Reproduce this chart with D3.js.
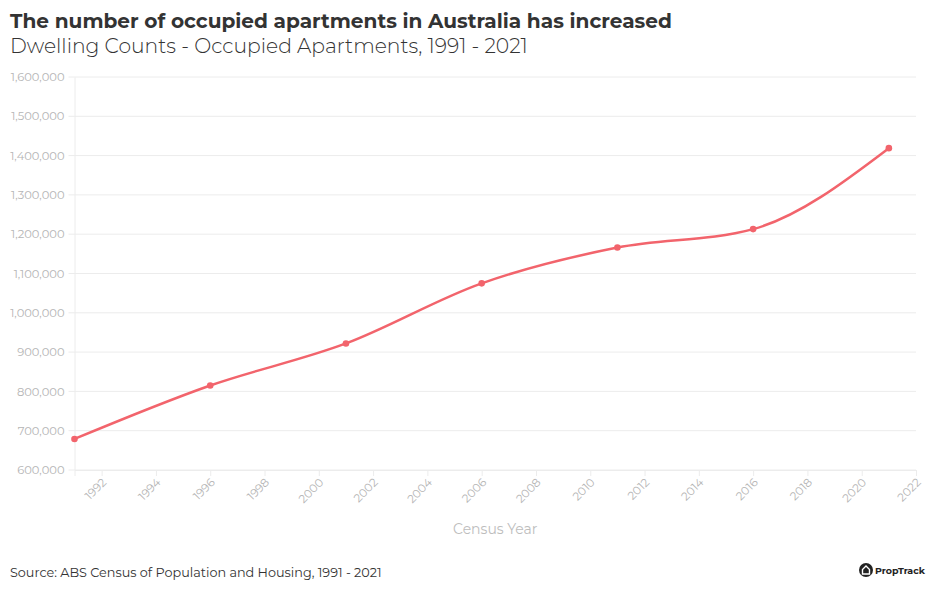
<!DOCTYPE html>
<html>
<head>
<meta charset="utf-8">
<script src="https://cdn.jsdelivr.net/npm/d3@7"></script>
<style>
  html, body { margin: 0; padding: 0; background: #fff; }
  svg { display: block; font-family: Montserrat, "Noto Sans", "Open Sans", sans-serif; }
</style>
</head>
<body>
<svg id="chart" width="941" height="600"></svg>
<script>
// ---- data ----
const years = [1991, 1996, 2001, 2006, 2011, 2016, 2021];
const occupiedApartments = [679000, 815000, 922000, 1075000, 1166000, 1213000, 1419000];
const yTicks = [600000, 700000, 800000, 900000, 1000000, 1100000, 1200000, 1300000, 1400000, 1500000, 1600000];
const xTicks = [1992, 1994, 1996, 1998, 2000, 2002, 2004, 2006, 2008, 2010, 2012, 2014, 2016, 2018, 2020, 2022];
const titleText = "The number of occupied apartments in Australia has increased";
const subtitleText = "Dwelling Counts - Occupied Apartments, 1991 - 2021";
const xAxisTitle = "Census Year";
const sourceText = "Source: ABS Census of Population and Housing, 1991 - 2021";

const svg = d3.select("#chart");
const W = 941, H = 600;
const m = { left: 74.5, right: 941 - 916, top: 77, bottom: 600 - 470 };

const x = d3.scaleLinear().domain([1991, 2022]).range([m.left, W - m.right]);
const y = d3.scaleLinear().domain([600000, 1600000]).range([H - m.bottom, m.top]);

// fit text to a target width
function fitText(sel, targetW) {
  const node = sel.node();
  const fs = parseFloat(sel.attr("font-size"));
  const w = node.getComputedTextLength();
  if (w > 0) sel.attr("font-size", (fs * targetW / w).toFixed(2));
}

// title & subtitle
const t1 = svg.append("text").attr("x", 10).attr("y", 28)
  .attr("font-size", 19).attr("font-weight", 700).attr("fill", "#333").text(titleText);
fitText(t1, 662);
const t2 = svg.append("text").attr("x", 10).attr("y", 53)
  .attr("font-size", 19).attr("font-weight", 300).attr("fill", "#333").text(subtitleText);
fitText(t2, 518);

// grid lines
const grid = svg.append("g");
grid.selectAll("line").data(yTicks).join("line")
  .attr("x1", m.left - 6).attr("x2", W - m.right)
  .attr("y1", d => y(d)).attr("y2", d => y(d))
  .attr("stroke", "#ececec").attr("stroke-width", 1);

// y axis
const yAxis = svg.append("g").attr("transform", `translate(${m.left},0)`)
  .call(d3.axisLeft(y).tickValues(yTicks).tickSize(0).tickPadding(10).tickFormat(d3.format(",")));
yAxis.select(".domain").attr("stroke", "#ececec");
yAxis.selectAll("text").attr("fill", "#b5b5b5").attr("font-size", 11.5)
  .attr("font-family", "Montserrat, 'Noto Sans', sans-serif");

// x axis
const xAxis = svg.append("g").attr("transform", `translate(0,${H - m.bottom})`)
  .call(d3.axisBottom(x).tickValues(xTicks).tickSize(6).tickFormat(d3.format("d")));
xAxis.select(".domain").attr("stroke", "#ececec");
xAxis.selectAll(".tick line").attr("stroke", "#ececec");
xAxis.selectAll("text").attr("fill", "#b5b5b5").attr("font-size", 11.5)
  .attr("font-family", "Montserrat, 'Noto Sans', sans-serif")
  .attr("text-anchor", "end").attr("dy", null).attr("y", 0)
  .attr("transform", "translate(5,13) rotate(-45)");

// x axis title
svg.append("text").attr("x", (m.left + W - m.right) / 2).attr("y", 534)
  .attr("text-anchor", "middle").attr("font-size", 14).attr("fill", "#bdbdbd")
  .text(xAxisTitle);

// line
const data = years.map((yr, i) => ({ yr, v: occupiedApartments[i] }));
const line = d3.line().x(d => x(d.yr)).y(d => y(d.v)).curve(d3.curveMonotoneX);
svg.append("path").datum(data).attr("d", line)
  .attr("fill", "none").attr("stroke", "#f2646c").attr("stroke-width", 2.5);
svg.append("g").selectAll("circle").data(data).join("circle")
  .attr("cx", d => x(d.yr)).attr("cy", d => y(d.v)).attr("r", 3.3)
  .attr("fill", "#f2646c");

// source
const s = svg.append("text").attr("x", 10).attr("y", 577)
  .attr("font-size", 13).attr("font-weight", 400).attr("fill", "#333").text(sourceText);
fitText(s, 372);

// PropTrack logo
const logo = svg.append("g").attr("transform", "translate(866,570)");
logo.append("circle").attr("r", 7).attr("fill", "#222");
logo.append("path").attr("d", "M-3.5,4 L-3.5,-0.5 L0,-4 L3.5,-0.5 L3.5,4 Z")
  .attr("fill", "none").attr("stroke", "#fff").attr("stroke-width", 1.4);
const lt = logo.append("text").attr("x", 9).attr("y", 4)
  .attr("font-size", 10.5).attr("font-weight", 700).attr("fill", "#222").text("PropTrack");
fitText(lt, 50);
</script>
</body>
</html>
